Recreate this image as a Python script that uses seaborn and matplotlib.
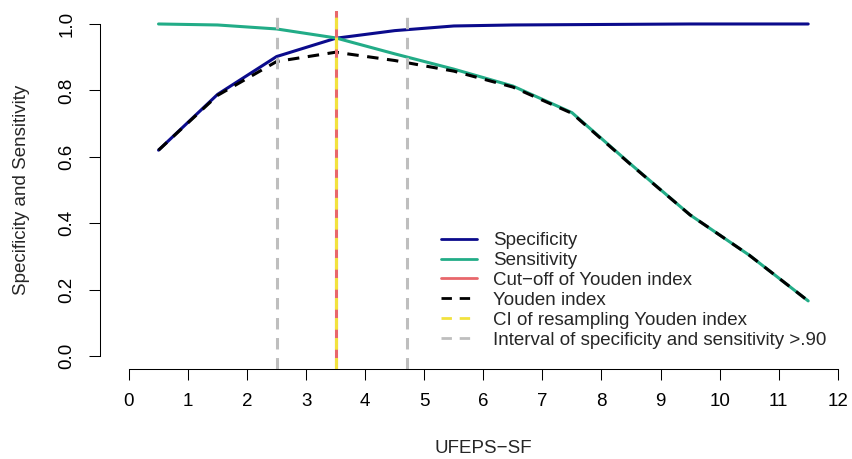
import matplotlib
matplotlib.use("Agg")
import matplotlib.pyplot as plt
import seaborn as sns

sns.set_theme(style="white")
plt.rcParams["font.family"] = ["Liberation Sans", "DejaVu Sans"]

# cut-off values of UFEPS-SF
cutoffs = [0.5, 1.5, 2.5, 3.5, 4.5, 5.5, 6.5, 7.5, 8.5, 9.5, 10.5, 11.5]
specificity = [0.620, 0.788, 0.902, 0.957, 0.980, 0.994, 0.997, 0.998, 0.999, 1.0, 1.0, 1.0]
sensitivity = [1.0, 0.997, 0.985, 0.958, 0.910, 0.864, 0.813, 0.733, 0.577, 0.425, 0.304, 0.166]
youden = [0.620, 0.785, 0.887, 0.915, 0.890, 0.858, 0.810, 0.731, 0.576, 0.425, 0.304, 0.166]
youden_cut = 3.5
ci_youden = [3.5, 3.5]
interval_90 = [2.5, 4.7]

fs = 13.5
navy = "#0B0B8C"
green = "#22AC87"
red = "#E8676B"
yellow = "#F2E23E"
grey = "#BEBEBE"
dash = (3.75, 2.8)

fig = plt.figure(figsize=(8.53, 4.59), dpi=100)
ax = fig.add_axes([100 / 853, 89.7 / 459, 753 / 853, 358.6 / 459])

sns.lineplot(x=cutoffs, y=specificity, color=navy, lw=2.2, ax=ax, label="Specificity")
h_spec = ax.lines[-1]
sns.lineplot(x=cutoffs, y=sensitivity, color=green, lw=2.2, ax=ax, label="Sensitivity")
h_sens = ax.lines[-1]
sns.lineplot(x=cutoffs, y=youden, color="black", lw=2.2, ax=ax, label="Youden index")
h_you = ax.lines[-1]
h_you.set_dashes(dash)

for v in interval_90:
    h_int = ax.axvline(v, color=grey, lw=2.2)
    h_int.set_dashes(dash)
h_cut = ax.axvline(youden_cut, color=red, lw=2.2)
for v in ci_youden:
    h_ci = ax.axvline(v, color=yellow, lw=2.2)
    h_ci.set_dashes(dash)

ax.set_xlim(-29 / 59.06, 724 / 59.06)
ax.set_ylim(-0.04, 1.04)
ax.set_xticks(range(0, 13))
ax.set_yticks([0, 0.2, 0.4, 0.6, 0.8, 1.0])
ax.set_yticklabels(["0.0", "0.2", "0.4", "0.6", "0.8", "1.0"], rotation=90, va="center")
ax.tick_params(axis="both", labelsize=fs, length=7.9, width=0.75, color="black",
               labelcolor="black", direction="out")
ax.tick_params(axis="x", pad=9.4)
ax.tick_params(axis="y", pad=9.6)
ax.xaxis.set_ticks_position("bottom")
ax.yaxis.set_ticks_position("left")
for s in ["top", "right"]:
    ax.spines[s].set_visible(False)
ax.spines["left"].set_bounds(0, 1)
ax.spines["bottom"].set_bounds(0, 12)
for s in ["left", "bottom"]:
    ax.spines[s].set_color("black")
    ax.spines[s].set_linewidth(0.75)

ax.set_xlabel("UFEPS\u2212SF", fontsize=fs, va="center")
ax.xaxis.set_label_coords(0.5086, -0.2222)
ax.set_ylabel("Specificity and Sensitivity", fontsize=fs, va="center")
ax.yaxis.set_label_coords(-0.1044, 0.5)

handles = [h_spec, h_sens, h_cut, h_you, h_ci, h_int]
labels = ["Specificity", "Sensitivity", "Cut\u2212off of Youden index", "Youden index",
          "CI of resampling Youden index", "Interval of specificity and sensitivity >.90"]
leg = ax.legend(handles, labels, loc="upper left", bbox_to_anchor=(441 / 853, 1 - 232 / 459),
                bbox_transform=fig.transFigure, frameon=False, fontsize=fs, borderpad=0,
                borderaxespad=0, handlelength=1.93, handletextpad=0.86, labelspacing=0.15)
for ln in leg.get_lines():
    ln.set_linewidth(2.0)

fig.savefig("out.png", dpi=100)
